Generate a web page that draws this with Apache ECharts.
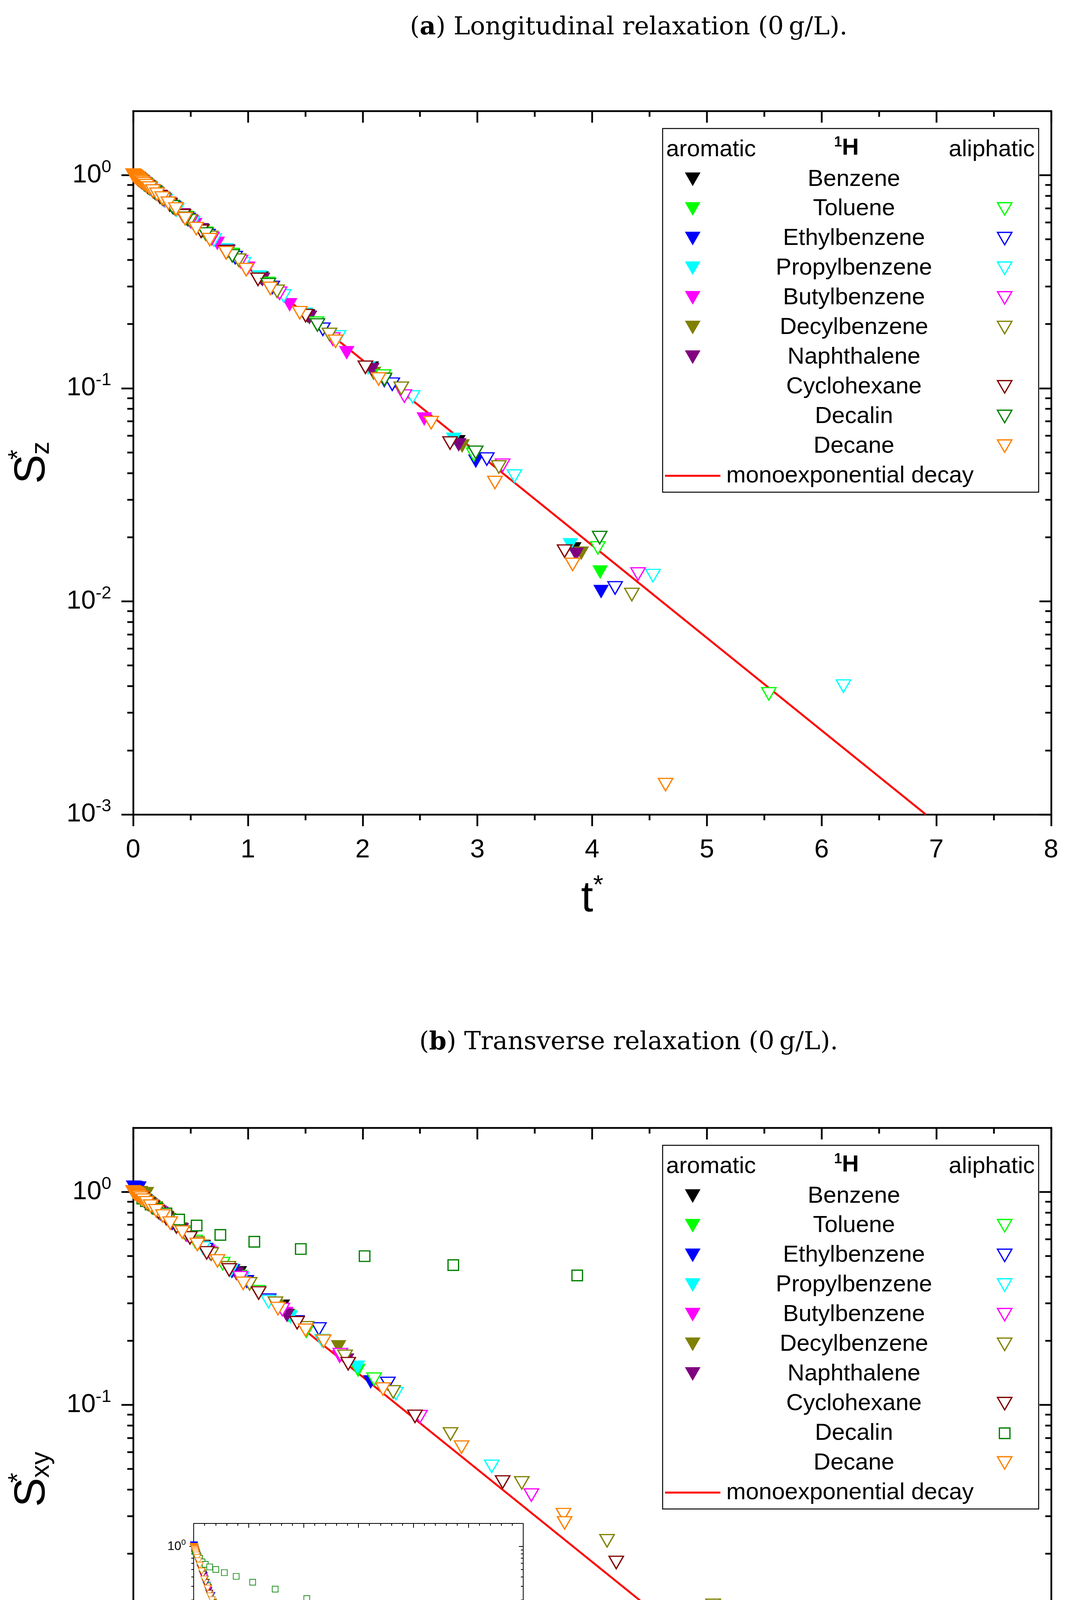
<!DOCTYPE html>
<html><head><meta charset="utf-8">
<script src="https://cdn.jsdelivr.net/npm/echarts@6/dist/echarts.min.js"></script>
<style>html,body{margin:0;padding:0;background:#fff}#c{width:2748px;height:4988px}</style>
</head><body><div id="c"></div>
<script>
const compounds = ['Benzene','Toluene','Ethylbenzene','Propylbenzene','Butylbenzene','Decylbenzene','Naphthalene','Cyclohexane','Decalin','Decane'];
const aromaticSet = ['Benzene','Toluene','Ethylbenzene','Propylbenzene','Butylbenzene','Decylbenzene','Naphthalene'];
const aliphaticSet = ['Toluene','Ethylbenzene','Propylbenzene','Butylbenzene','Decylbenzene','Cyclohexane','Decalin','Decane'];
const compoundColors = ['#000000','#00ff00','#0000ff','#00ffff','#ff00ff','#808000','#800080','#800000','#008000','#ff8000'];
const titleA = '({b|a}) Longitudinal relaxation (0\u2009g/L).';
const titleB = '({b|b}) Transverse relaxation (0\u2009g/L).';
const xTicksMain = [0,1,2,3,4,5,6,7,8];
const xTicksInset = [0,5,10,15,20,25,30];
const yDecades = [-3,-2,-1,0];
const decayLine = [[0,1],[6.908,0.001]];

const L_benzene_ar = [[0.037,0.965],[0.050,0.952],[0.068,0.935],[0.093,0.912],[0.127,0.880],[0.173,0.842],[0.236,0.790],[0.322,0.726],[0.439,0.645],[0.599,0.549],[0.818,0.440],[1.115,0.328],[1.521,0.218],[2.075,0.124],[2.83,0.056],[3.84,0.0176]];
const L_toluene_ar = [[0.039,0.962],[0.053,0.948],[0.072,0.930],[0.098,0.907],[0.133,0.875],[0.182,0.834],[0.248,0.780],[0.338,0.712],[0.461,0.630],[0.629,0.532],[0.858,0.423],[1.171,0.309],[1.597,0.200],[2.178,0.112],[2.97,0.0495],[4.07,0.0137]];
const L_ethyl_ar = [[0.039,0.960],[0.053,0.946],[0.072,0.929],[0.098,0.905],[0.134,0.873],[0.183,0.831],[0.249,0.778],[0.340,0.710],[0.464,0.627],[0.633,0.529],[0.863,0.420],[1.177,0.306],[1.605,0.198],[2.189,0.108],[2.986,0.0454],[4.078,0.0111]];
const L_propyl_ar = [[0.036,0.966],[0.049,0.953],[0.067,0.936],[0.092,0.913],[0.125,0.882],[0.171,0.843],[0.233,0.792],[0.318,0.728],[0.434,0.648],[0.592,0.553],[0.807,0.445],[1.101,0.332],[1.501,0.222],[2.048,0.124],[2.793,0.0575],[3.81,0.0184]];
const L_butyl_ar = [[0.049,0.952],[0.067,0.935],[0.091,0.913],[0.124,0.883],[0.169,0.845],[0.231,0.794],[0.315,0.730],[0.430,0.650],[0.537,0.585],[0.733,0.478],[1.0,0.365],[1.364,0.246],[1.861,0.1466],[2.537,0.0716]];
const L_decyl_ar = [[0.037,0.964],[0.050,0.951],[0.069,0.933],[0.094,0.910],[0.128,0.879],[0.175,0.839],[0.239,0.787],[0.325,0.722],[0.444,0.641],[0.605,0.545],[0.826,0.437],[1.126,0.324],[1.536,0.214],[2.095,0.117],[2.867,0.0535],[3.905,0.0168]];
const L_naph_ar = [[0.036,0.965],[0.049,0.952],[0.067,0.935],[0.092,0.912],[0.125,0.881],[0.171,0.843],[0.233,0.792],[0.318,0.728],[0.434,0.648],[0.592,0.553],[0.826,0.438],[1.127,0.323],[1.537,0.215],[2.08,0.122],[2.837,0.0542],[3.86,0.0166]];
const L_toluene_al = [[0.053,0.949],[0.072,0.931],[0.098,0.907],[0.133,0.876],[0.182,0.835],[0.248,0.781],[0.338,0.713],[0.461,0.631],[0.629,0.533],[0.858,0.424],[1.171,0.310],[1.597,0.202],[2.18,0.114],[2.97,0.0487],[4.05,0.0178],[5.54,0.00368]];
const L_ethyl_al = [[0.040,0.960],[0.054,0.947],[0.074,0.928],[0.101,0.903],[0.138,0.871],[0.188,0.828],[0.257,0.773],[0.350,0.704],[0.478,0.619],[0.652,0.520],[0.889,0.410],[1.212,0.297],[1.653,0.189],[2.258,0.1044],[3.082,0.0465],[4.2,0.01156]];
const L_propyl_al = [[0.043,0.958],[0.059,0.943],[0.080,0.923],[0.110,0.896],[0.150,0.861],[0.204,0.816],[0.278,0.758],[0.379,0.686],[0.517,0.598],[0.705,0.496],[0.962,0.384],[1.312,0.271],[1.79,0.174],[2.436,0.091],[3.323,0.0387],[4.53,0.0132],[6.19,0.0040]];
const L_butyl_al = [[0.042,0.959],[0.057,0.945],[0.078,0.925],[0.107,0.899],[0.145,0.866],[0.198,0.821],[0.270,0.764],[0.369,0.692],[0.503,0.605],[0.686,0.504],[0.935,0.393],[1.276,0.279],[1.74,0.170],[2.364,0.0918],[3.22,0.0435],[4.40,0.01343]];
const L_decyl_al = [[0.041,0.960],[0.056,0.946],[0.077,0.926],[0.105,0.900],[0.143,0.867],[0.195,0.823],[0.266,0.767],[0.362,0.697],[0.494,0.611],[0.674,0.510],[0.919,0.399],[1.254,0.285],[1.711,0.1787],[2.337,0.0999],[3.187,0.0427],[4.346,0.01076]];
const L_cyclo_al = [[0.036,0.963],[0.049,0.950],[0.067,0.933],[0.092,0.910],[0.125,0.879],[0.171,0.840],[0.233,0.789],[0.318,0.724],[0.434,0.645],[0.592,0.545],[0.806,0.436],[1.088,0.324],[1.503,0.219],[2.024,0.1254],[2.762,0.0553],[3.76,0.0172]];
const L_decalin_al = [[0.039,0.961],[0.053,0.947],[0.072,0.929],[0.098,0.905],[0.134,0.873],[0.183,0.832],[0.250,0.778],[0.341,0.710],[0.465,0.627],[0.634,0.529],[0.864,0.418],[1.178,0.306],[1.606,0.198],[2.19,0.110],[2.985,0.050],[4.066,0.0199]];
const L_decane_al = [[0.000,1.0],[0.008,0.992],[0.010,0.990],[0.012,0.988],[0.014,0.986],[0.017,0.983],[0.020,0.980],[0.025,0.975],[0.030,0.970],[0.036,0.965],[0.044,0.957],[0.054,0.948],[0.065,0.937],[0.079,0.924],[0.096,0.909],[0.116,0.891],[0.141,0.869],[0.172,0.842],[0.209,0.813],[0.253,0.780],[0.307,0.738],[0.373,0.693],[0.453,0.624],[0.550,0.561],[0.668,0.498],[0.811,0.432],[0.985,0.360],[1.196,0.294],[1.452,0.226],[1.764,0.166],[2.139,0.1105],[2.597,0.0689],[3.153,0.0361],[3.83,0.0149],[4.64,0.00138]];

const T_benzene_ar = [[0.030,0.975],[0.045,0.960],[0.066,0.940],[0.095,0.912],[0.137,0.874],[0.198,0.823],[0.285,0.756],[0.41,0.668],[0.61,0.553],[0.925,0.416],[1.30,0.290]];
const T_toluene_ar = [[0.032,0.972],[0.047,0.956],[0.068,0.936],[0.099,0.908],[0.144,0.868],[0.209,0.813],[0.303,0.741],[0.44,0.648],[0.64,0.530],[0.93,0.400],[1.35,0.262],[1.96,0.145]];
const T_ethyl_ar = [[0.004,1.05],[0.02,1.045],[0.05,1.04],[0.074,0.930],[0.107,0.901],[0.155,0.860],[0.225,0.802],[0.326,0.725],[0.47,0.628],[0.68,0.510],[0.99,0.378],[1.43,0.245],[2.07,0.128]];
const T_propyl_ar = [[0.034,0.970],[0.049,0.954],[0.071,0.933],[0.103,0.904],[0.149,0.864],[0.216,0.808],[0.313,0.733],[0.45,0.640],[0.66,0.522],[0.95,0.392],[1.37,0.258],[1.955,0.150]];
const T_butyl_ar = [[0.033,0.971],[0.048,0.955],[0.070,0.934],[0.101,0.905],[0.147,0.866],[0.213,0.810],[0.309,0.737],[0.45,0.642],[0.65,0.526],[0.94,0.395],[1.33,0.268],[1.80,0.168]];
const T_decyl_ar = [[0.030,0.975],[0.064,0.99],[0.116,0.98],[0.196,0.84],[0.284,0.760],[0.41,0.668],[0.60,0.555],[0.87,0.425],[1.25,0.290],[1.79,0.187]];
const T_naph_ar = [[0.031,0.973],[0.045,0.959],[0.065,0.940],[0.094,0.913],[0.137,0.874],[0.199,0.822],[0.288,0.753],[0.42,0.662],[0.61,0.548],[0.90,0.412],[1.34,0.263],[1.86,0.162]];
const T_toluene_al = [[0.040,0.962],[0.058,0.945],[0.084,0.921],[0.122,0.887],[0.177,0.840],[0.257,0.775],[0.37,0.692],[0.54,0.585],[0.78,0.460],[1.087,0.340],[1.51,0.222],[2.10,0.132]];
const T_ethyl_al = [[0.037,0.965],[0.054,0.949],[0.078,0.926],[0.113,0.895],[0.164,0.851],[0.237,0.791],[0.34,0.713],[0.46,0.632],[0.63,0.535],[0.86,0.425],[1.18,0.310],[1.619,0.227],[2.22,0.126]];
const T_propyl_al = [[0.036,0.966],[0.052,0.950],[0.075,0.929],[0.108,0.899],[0.156,0.858],[0.225,0.800],[0.32,0.728],[0.44,0.645],[0.61,0.545],[0.85,0.430],[1.18,0.305],[1.647,0.200],[2.29,0.113],[3.125,0.0514]];
const T_butyl_al = [[0.038,0.964],[0.055,0.947],[0.079,0.925],[0.113,0.894],[0.162,0.852],[0.232,0.795],[0.33,0.720],[0.47,0.627],[0.67,0.515],[0.934,0.395],[1.30,0.280],[1.806,0.172],[2.50,0.088],[3.47,0.0377]];
const T_decyl_al = [[0.075,0.928],[0.092,0.912],[0.112,0.894],[0.137,0.872],[0.167,0.847],[0.204,0.816],[0.25,0.780],[0.305,0.740],[0.372,0.690],[0.455,0.636],[0.556,0.575],[0.68,0.510],[0.83,0.440],[1.015,0.370],[1.24,0.300],[1.512,0.230],[1.847,0.169],[2.266,0.115],[2.766,0.073],[3.387,0.043],[4.13,0.023],[5.055,0.01145]];
const T_cyclo_al = [[0.075,0.928],[0.098,0.907],[0.128,0.880],[0.168,0.845],[0.22,0.802],[0.289,0.749],[0.378,0.685],[0.495,0.608],[0.641,0.517],[0.837,0.430],[1.094,0.335],[1.429,0.243],[1.874,0.156],[2.456,0.0883],[3.22,0.0434],[4.21,0.0182],[5.527,0.00658]];
const T_decalin_al = [[0.080,0.930],[0.111,0.905],[0.152,0.872],[0.210,0.835],[0.290,0.792],[0.401,0.741],[0.553,0.695],[0.760,0.628],[1.056,0.583],[1.461,0.539],[2.017,0.499],[2.79,0.453],[3.87,0.405],[5.37,0.340],[7.42,0.276],[10.30,0.207],[14.28,0.140],[19.75,0.0797],[27.39,0.038]];
const T_decane_al = [[0.000,1.0],[0.010,0.990],[0.013,0.987],[0.018,0.982],[0.023,0.977],[0.030,0.970],[0.040,0.961],[0.052,0.949],[0.068,0.934],[0.090,0.914],[0.117,0.889],[0.153,0.857],[0.200,0.815],[0.260,0.770],[0.323,0.713],[0.428,0.647],[0.560,0.566],[0.735,0.474],[0.959,0.372],[1.262,0.283],[1.503,0.224],[1.660,0.199],[2.177,0.1186],[2.862,0.0633],[3.75,0.0305],[3.76,0.0279]];

const L_arom = {Benzene:L_benzene_ar, Toluene:L_toluene_ar, Ethylbenzene:L_ethyl_ar, Propylbenzene:L_propyl_ar, Butylbenzene:L_butyl_ar, Decylbenzene:L_decyl_ar, Naphthalene:L_naph_ar};
const L_aliph = {Toluene:L_toluene_al, Ethylbenzene:L_ethyl_al, Propylbenzene:L_propyl_al, Butylbenzene:L_butyl_al, Decylbenzene:L_decyl_al, Cyclohexane:L_cyclo_al, Decalin:L_decalin_al, Decane:L_decane_al};
const T_arom = {Benzene:T_benzene_ar, Toluene:T_toluene_ar, Ethylbenzene:T_ethyl_ar, Propylbenzene:T_propyl_ar, Butylbenzene:T_butyl_ar, Decylbenzene:T_decyl_ar, Naphthalene:T_naph_ar};
const T_aliph = {Toluene:T_toluene_al, Ethylbenzene:T_ethyl_al, Propylbenzene:T_propyl_al, Butylbenzene:T_butyl_al, Decylbenzene:T_decyl_al, Cyclohexane:T_cyclo_al, Decalin:T_decalin_al, Decane:T_decane_al};

const FONT = '"Liberation Sans", Arial, sans-serif';
const SERIF = '"DejaVu Serif", serif';
const colorOf = n => compoundColors[compounds.indexOf(n)];
const TRI = 'path://M0,0L40,0L20,35Z';
const LOGMAX = Math.log10(2);
const minorDec = [];
for (let e = -3; e <= -1; e++) for (let k = 2; k <= 9; k++) minorDec.push(e + Math.log10(k));

const xAxes = [], yAxes = [], series = [];

function addAxes(g, c) {
  const ls = {color:'#000', width:c.lw};
  const base = {gridIndex:g, splitLine:{show:false}, minorSplitLine:{show:false}};
  xAxes.push(Object.assign({}, base, {type:'value', position:'bottom', min:0, max:c.xmax, interval:c.xint,
    axisLine:{show:true,onZero:false,lineStyle:ls},
    axisTick:{show:true,inside:false,length:c.maj,lineStyle:ls},
    minorTick:{show:true,splitNumber:c.xsplit,length:c.min,lineStyle:ls},
    axisLabel:{show:true,margin:c.xmargin,fontSize:c.fs,fontFamily:FONT,color:'#000',customValues:c.xticks},
    name:'t{s|*}', nameLocation:'middle', nameGap:c.xnameGap,
    nameTextStyle:{fontSize:c.nfs,fontFamily:FONT,color:'#000',
      rich:{s:{fontSize:Math.round(c.nfs*0.6),fontFamily:FONT,color:'#000',padding:[0,0,Math.round(c.nfs*0.6),0]}}}
  }));
  xAxes.push(Object.assign({}, base, {type:'value', position:'top', min:0, max:c.xmax, interval:c.xint,
    axisLine:{show:true,onZero:false,lineStyle:ls},
    axisTick:{show:true,inside:true,length:c.maj,lineStyle:ls},
    minorTick:{show:true,splitNumber:c.xsplit,length:c.min,lineStyle:ls},
    axisLabel:{show:false}}));
  const subFs = Math.round(c.nfs*0.6);
  yAxes.push(Object.assign({}, base, {type:'log', logBase:10, min:0.001, max:2, position:'left',
    axisLine:{show:false}, axisTick:{show:false}, axisLabel:{show:false},
    name:'S{p|*}{b|' + c.sub + '}', nameLocation:'middle', nameGap:c.ynameGap, nameRotate:90,
    nameTextStyle:{fontSize:c.nfs,fontFamily:FONT,color:'#000',
      rich:{p:{fontSize:subFs,fontFamily:FONT,color:'#000',width:0,padding:[0,0,Math.round(c.nfs*0.62),0]},
            b:{fontSize:subFs,fontFamily:FONT,color:'#000',padding:[Math.round(c.nfs*0.42),0,0,0]}}}
  }));
  const supRich = {s:{fontSize:Math.round(c.fs*0.67),fontFamily:FONT,color:'#000',padding:[0,0,Math.round(c.fs*0.6),0]}};
  yAxes.push(Object.assign({}, base, {type:'value', min:-3, max:LOGMAX, position:'left',
    axisLine:{show:true,onZero:false,lineStyle:ls},
    axisTick:{show:true,inside:false,length:c.maj,customValues:yDecades,lineStyle:ls},
    axisLabel:{show:true,customValues:yDecades,margin:c.ymargin,fontSize:c.fs,fontFamily:FONT,color:'#000',
      formatter:v => '10{s|' + Math.round(v) + '}', rich:supRich}}));
  yAxes.push(Object.assign({}, base, {type:'value', min:-3, max:LOGMAX, position:'left',
    axisLine:{show:false}, axisTick:{show:true,inside:false,length:c.min,customValues:minorDec,lineStyle:ls},
    axisLabel:{show:false}}));
  yAxes.push(Object.assign({}, base, {type:'value', min:-3, max:LOGMAX, position:'right',
    axisLine:{show:true,onZero:false,lineStyle:ls},
    axisTick:{show:true,inside:true,length:c.maj,customValues:yDecades,lineStyle:ls},
    axisLabel:{show:false}}));
  yAxes.push(Object.assign({}, base, {type:'value', min:-3, max:LOGMAX, position:'right',
    axisLine:{show:false}, axisTick:{show:true,inside:true,length:c.min,customValues:minorDec,lineStyle:ls},
    axisLabel:{show:false}}));
}

function addSeries(g, arom, aliph, squareDecalin, sc) {
  const xi = 2*g, yi = 5*g;
  series.push({type:'line', xAxisIndex:xi, yAxisIndex:yi, data:decayLine, symbol:'none', silent:true,
    lineStyle:{color:'#ff0000', width:sc.line}, z:1, clip:true, animation:false});
  aromaticSet.forEach(n => {
    series.push({type:'scatter', name:n+' aromatic', xAxisIndex:xi, yAxisIndex:yi, data:arom[n], silent:true,
      symbol:TRI, symbolSize:sc.fill, itemStyle:{color:colorOf(n), opacity:1}, z:2, clip:true, animation:false});
  });
  aliphaticSet.forEach(n => {
    const sq = squareDecalin && n === 'Decalin';
    series.push({type:'scatter', name:n+' aliphatic', xAxisIndex:xi, yAxisIndex:yi, data:aliph[n], silent:true,
      symbol: sq ? 'rect' : TRI, symbolSize: sq ? sc.sq : sc.open,
      itemStyle:{color:'#ffffff', borderColor:colorOf(n), borderWidth:sc.bw, opacity:1}, z:3, clip:true, animation:false});
  });
}

const mainCfg = {lw:4.5, maj:30, min:15, xmax:8, xint:1, xsplit:2, xticks:xTicksMain, fs:67, xmargin:58, ymargin:56, nfs:112, xnameGap:150, ynameGap:190};
addAxes(0, Object.assign({sub:'z'}, mainCfg));
addAxes(1, Object.assign({sub:'xy'}, mainCfg));
addAxes(2, {sub:'xy', lw:2, maj:11, min:6, xmax:30, xint:5, xsplit:5, xticks:xTicksInset, fs:32, xmargin:22, ymargin:20, nfs:50, xnameGap:60, ynameGap:80});

const mainSc = {line:5, fill:[40,35], open:[37,32], sq:27, bw:3.2};
addSeries(0, L_arom, L_aliph, false, mainSc);
addSeries(1, T_arom, T_aliph, true, mainSc);
addSeries(2, T_arom, T_aliph, true, {line:2.2, fill:[20,17], open:[18,16], sq:15, bw:1.7});

function legendGroup(x0, y0, squareDecalin) {
  const ch = [];
  const tf = (txt, x, y, align, extra) => Object.assign({type:'text', x:x, y:y, z:101,
    style:Object.assign({text:txt, fontSize:60, fontFamily:FONT, fill:'#000', align:align, verticalAlign:'middle',
      textAlign:align, textVerticalAlign:'middle'}, extra || {})});
  ch.push({type:'rect', z:100, shape:{x:0,y:0,width:963,height:931}, style:{fill:'#fff', stroke:'#000', lineWidth:2.5}});
  ch.push(tf('aromatic', 9, 54, 'left'));
  ch.push(tf('{s|1}{h|H}', 471, 50, 'center', {rich:{s:{fontSize:36,fontWeight:'bold',fontFamily:FONT,fill:'#000',padding:[0,0,28,0]},
    h:{fontSize:60,fontWeight:'bold',fontFamily:FONT,fill:'#000'}}}));
  ch.push(tf('aliphatic', 953, 54, 'right'));
  compounds.forEach((n, i) => {
    const y = 130 + 75.9*i;
    ch.push(tf(n, 490, y, 'center'));
    const col = colorOf(n);
    if (aromaticSet.indexOf(n) >= 0)
      ch.push({type:'polygon', z:101, x:77, y:y, shape:{points:[[-20,-17.5],[20,-17.5],[0,17.5]]}, style:{fill:col}});
    if (aliphaticSet.indexOf(n) >= 0) {
      if (squareDecalin && n === 'Decalin')
        ch.push({type:'rect', z:101, x:876, y:y, shape:{x:-13.5,y:-13.5,width:27,height:27}, style:{fill:'#fff', stroke:col, lineWidth:3.2}});
      else
        ch.push({type:'polygon', z:101, x:876, y:y, shape:{points:[[-18.5,-16],[18.5,-16],[0,16]]}, style:{fill:'#fff', stroke:col, lineWidth:3.2}});
    }
  });
  const yl = 130 + 75.9*10;
  ch.push({type:'line', z:101, shape:{x1:6,y1:yl,x2:148,y2:yl}, style:{stroke:'#ff0000', lineWidth:5}});
  ch.push(tf('monoexponential decay', 163, yl, 'left'));
  return {type:'group', x:x0, y:y0, z:100, children:ch};
}

const option = {
  animation:false,
  backgroundColor:'#ffffff',
  title:[
    {text:titleA, left:1605, top:34, textAlign:'center', textStyle:{fontFamily:SERIF, fontSize:64, fontWeight:'normal', color:'#000',
      rich:{b:{fontFamily:SERIF, fontSize:64, fontWeight:'bold', color:'#000'}}}},
    {text:titleB, left:1605, top:2632, textAlign:'center', textStyle:{fontFamily:SERIF, fontSize:64, fontWeight:'normal', color:'#000',
      rich:{b:{fontFamily:SERIF, fontSize:64, fontWeight:'bold', color:'#000'}}}}
  ],
  grid:[
    {left:341, top:284, width:2351, height:1801},
    {left:341, top:2887, width:2351, height:1800},
    {left:496, top:3900, width:844, height:645, show:true, backgroundColor:'#fff', borderWidth:0}
  ],
  xAxis:xAxes,
  yAxis:yAxes,
  series:series,
  graphic:[legendGroup(1697, 329, false), legendGroup(1697, 2932, true)]
};
const chart = echarts.init(document.getElementById('c'), null, {renderer:'canvas', devicePixelRatio:1});
chart.setOption(option);
</script>
</body></html>
